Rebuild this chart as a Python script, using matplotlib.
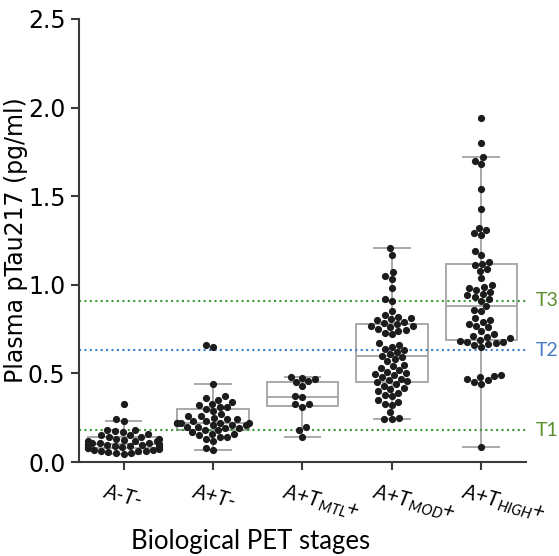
import matplotlib
matplotlib.use("Agg")
import matplotlib.pyplot as plt
import matplotlib.transforms as mtransforms
import numpy as np
import pandas as pd
import seaborn as sns

# categories (tick labels)
stages = ["A-T-", "A+T-", "A+T$_{\\mathregular{MTL}}$+", "A+T$_{\\mathregular{MOD}}$+", "A+T$_{\\mathregular{HIGH}}$+"]

# plasma pTau217 values per stage (pg/ml)
a_neg = [0.045, 0.05, 0.05, 0.055, 0.06, 0.06, 0.065, 0.07, 0.07, 0.075, 0.08, 0.08, 0.08,
         0.085, 0.085, 0.09, 0.09, 0.09, 0.095, 0.095, 0.10, 0.10, 0.10, 0.105, 0.11, 0.11,
         0.12, 0.12, 0.12, 0.125, 0.13, 0.13, 0.14, 0.14, 0.15, 0.15, 0.16, 0.17, 0.175,
         0.18, 0.18, 0.23, 0.24, 0.33]
a_pos_t_neg = [0.07, 0.08, 0.12, 0.13, 0.14, 0.14, 0.15, 0.16, 0.16, 0.17, 0.18, 0.18, 0.19,
               0.19, 0.20, 0.20, 0.21, 0.21, 0.21, 0.22, 0.22, 0.22, 0.22, 0.22, 0.23, 0.23,
               0.24, 0.24, 0.25, 0.26, 0.26, 0.27, 0.29, 0.30, 0.31, 0.31, 0.32, 0.33, 0.34,
               0.35, 0.36, 0.37, 0.44, 0.65, 0.66]
t_mtl = [0.143, 0.18, 0.20, 0.31, 0.325, 0.33, 0.365, 0.372, 0.43, 0.45, 0.455, 0.47, 0.475, 0.48]
t_mod = [1.21, 1.17, 1.07, 1.05, 1.03, 0.98, 0.92, 0.91, 0.85,
         0.83, 0.82, 0.81, 0.805, 0.80, 0.79, 0.785, 0.78, 0.77, 0.765, 0.76, 0.75, 0.745,
         0.74, 0.73, 0.72,
         0.67, 0.66, 0.65, 0.64, 0.63, 0.62, 0.61, 0.60, 0.59, 0.58, 0.57,
         0.55, 0.54, 0.53, 0.52, 0.51, 0.50, 0.495, 0.49, 0.48, 0.47, 0.46, 0.455, 0.45,
         0.44, 0.43, 0.42, 0.41, 0.40,
         0.39, 0.38, 0.37, 0.35, 0.34, 0.33, 0.32, 0.28, 0.25, 0.24, 0.24]
t_high = [1.94, 1.80, 1.72, 1.70, 1.68, 1.54, 1.43, 1.32, 1.31, 1.29, 1.28, 1.19, 1.17, 1.13,
          1.12, 1.11, 1.09, 1.08, 1.04, 1.00, 0.99, 0.98, 0.97, 0.96, 0.95, 0.94, 0.93, 0.92,
          0.91, 0.88, 0.86, 0.85, 0.81, 0.80, 0.79, 0.78, 0.77, 0.76, 0.74, 0.72, 0.71, 0.705,
          0.70, 0.69, 0.685, 0.68, 0.675, 0.67, 0.665, 0.66, 0.65, 0.49, 0.485, 0.48, 0.47,
          0.46, 0.45, 0.44, 0.085]
groups = [a_neg, a_pos_t_neg, t_mtl, t_mod, t_high]

# thresholds
thr_names = ["T1", "T2", "T3"]
thr_values = [0.18, 0.63, 0.91]
thr_colors = ["#3a9a35", "#3a82cf", "#3a9a35"]
thr_text_colors = ["#5b8f2e", "#4a7cc4", "#5b8f2e"]

df = pd.DataFrame({
    "stage": np.concatenate([[i] * len(g) for i, g in enumerate(groups)]),
    "value": np.concatenate(groups),
})

fig = plt.figure(figsize=(5.59, 5.56), dpi=100)
ax = fig.add_axes([0.141, 0.169, 0.8, 0.797])

box_gray = "#a9a9a9"
ax.boxplot(groups, positions=range(len(groups)), widths=0.8, showfliers=False,
           patch_artist=True,
           boxprops=dict(facecolor="white", edgecolor=box_gray, linewidth=1.4),
           medianprops=dict(color=box_gray, linewidth=1.4),
           whiskerprops=dict(color=box_gray, linewidth=1.4),
           capprops=dict(color=box_gray, linewidth=1.4), zorder=1)

sns.swarmplot(data=df, x="stage", y="value", native_scale=True, color="#1c1c1c",
              size=5.2, ax=ax, zorder=3)

for v, c in zip(thr_values, thr_colors):
    ax.axhline(v, color=c, ls=(0, (1, 1.6)), lw=1.5, zorder=2)
for name, v, c in zip(thr_names, thr_values, thr_text_colors):
    ax.text(1.022, v, name, transform=ax.get_yaxis_transform(), color=c,
            fontsize=14, family="Lato", va="center", ha="left")

for s in ["top", "right"]:
    ax.spines[s].set_visible(False)
for s in ["left", "bottom"]:
    ax.spines[s].set_color("#3a3a3a")
    ax.spines[s].set_linewidth(1.5)
ax.tick_params(axis="both", color="#3a3a3a", width=1.5, length=6)
ax.tick_params(axis="x", pad=8)

ax.set_xlim(-0.5, 4.5)
ax.set_ylim(0, 2.5)
ax.set_yticks([0, 0.5, 1.0, 1.5, 2.0, 2.5])
ax.set_yticklabels(["0.0", "0.5", "1.0", "1.5", "2.0", "2.5"], fontsize=17)
ax.set_xticks(range(len(stages)))
ax.set_xticklabels(stages, rotation=-15, ha="left", fontsize=15,
                   family="Lato", style="italic")
# labels start a little left of their tick, as in the reference
shift = mtransforms.ScaledTranslation(-0.22, 0, fig.dpi_scale_trans)
for lab in ax.get_xticklabels():
    lab.set_transform(lab.get_transform() + shift)

ax.set_xlabel("Biological PET stages", fontsize=18.5, family="Lato", va="top")
ax.xaxis.set_label_coords(0.385, -0.151)
ax.set_ylabel("Plasma pTau217 (pg/ml)", fontsize=17, labelpad=0)

fig.savefig("out.png", dpi=100)
